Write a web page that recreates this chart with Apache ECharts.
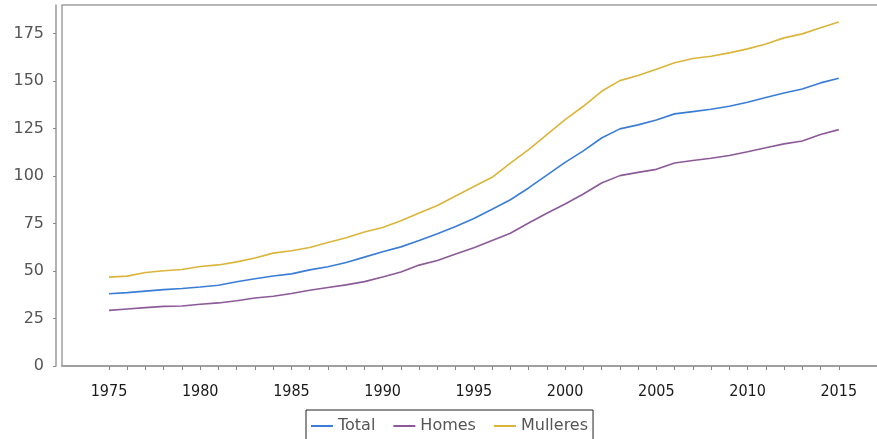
<!DOCTYPE html>
<html>
<head>
<meta charset="utf-8">
<script src="https://cdn.jsdelivr.net/npm/echarts@6/dist/echarts.min.js"></script>
<style>
html,body{margin:0;padding:0;background:#fff;}
#chart{width:877px;height:439px;}
</style>
</head>
<body>
<div id="chart"></div>
<script>
var years = [];
for (var y = 1975; y <= 2015; y++) years.push(y);

var total = [38.0, 38.6, 39.4, 40.2, 40.8, 41.6, 42.5, 44.3, 45.9, 47.4,
  48.5, 50.6, 52.2, 54.5, 57.3, 60.1, 62.7, 66.0, 69.6, 73.4,
  77.6, 82.5, 87.5, 93.7, 100.5, 107.2, 113.2, 120.0, 124.8, 126.9,
  129.5, 132.7, 133.9, 135.1, 136.7, 138.8, 141.3, 143.7, 145.8, 149.0, 151.4];

var homes = [29.3, 30.0, 30.7, 31.4, 31.6, 32.5, 33.2, 34.3, 35.8, 36.7,
  38.2, 39.9, 41.3, 42.7, 44.4, 46.8, 49.5, 53.1, 55.5, 58.9,
  62.2, 66.1, 69.9, 75.3, 80.4, 85.3, 90.5, 96.3, 100.2, 101.9,
  103.5, 106.8, 108.2, 109.3, 110.8, 112.8, 114.9, 116.9, 118.4, 121.8, 124.4];

var mulleres = [46.8, 47.3, 49.2, 50.1, 50.8, 52.4, 53.2, 54.8, 56.8, 59.4,
  60.7, 62.4, 65.0, 67.5, 70.5, 72.9, 76.4, 80.5, 84.5, 89.5,
  94.5, 99.3, 106.8, 113.9, 121.8, 129.7, 136.7, 144.6, 150.2, 152.9,
  156.2, 159.6, 161.8, 163.0, 164.8, 166.9, 169.5, 172.7, 174.8, 178.0, 181.0];

var seriesNames = ['Total', 'Homes', 'Mulleres'];
var xTickValues = years.slice();
var xLabelValues = [1975, 1980, 1985, 1990, 1995, 2000, 2005, 2010, 2015];
var yTickValues = [0, 25, 50, 75, 100, 125, 150, 175];

function pairs(vals) {
  return years.map(function (yr, i) { return [yr, vals[i]]; });
}

var colors = ['#3a7dd6', '#8c5a98', '#dbb53a'];

var chart = echarts.init(document.getElementById('chart'), null, {renderer: 'canvas'});
chart.setOption({
  backgroundColor: '#ffffff',
  animation: false,
  textStyle: {fontFamily: 'DejaVu Sans'},
  grid: {
    left: 62, top: 5, right: -3, bottom: 73,
    outerBoundsMode: 'none',
    containLabel: false,
    show: true, borderColor: '#a0a0a0', borderWidth: 1.5, backgroundColor: '#ffffff'
  },
  legend: {
    data: seriesNames,
    left: 306, top: 410,
    orient: 'horizontal',
    icon: 'rect',
    itemWidth: 22, itemHeight: 2,
    itemGap: 18,
    padding: [8, 5, 8, 5],
    borderColor: '#222', borderWidth: 1,
    backgroundColor: '#ffffff',
    textStyle: {fontFamily: 'DejaVu Sans', fontSize: 16, color: '#555'}
  },
  xAxis: {
    type: 'value',
    min: 1972.424, max: 2017.26,
    offset: 7,
    splitLine: {show: false},
    axisLine: {show: true, lineStyle: {color: '#999', width: 1.5}},
    axisTick: {show: true, length: 4, lineStyle: {color: '#888'}, customValues: xTickValues},
    axisLabel: {
      customValues: xLabelValues,
      margin: 11,
      fontFamily: 'DejaVu Sans Condensed',
      fontSize: 16,
      color: '#1a1a1a',
      formatter: function (v) { return String(v); }
    }
  },
  yAxis: {
    type: 'value',
    min: 0, max: 190,
    offset: 6,
    splitLine: {show: false},
    axisLine: {show: true, lineStyle: {color: '#999', width: 1.5}},
    axisTick: {show: true, length: 3, lineStyle: {color: '#888'}, customValues: yTickValues},
    axisLabel: {
      customValues: yTickValues,
      margin: 12,
      fontFamily: 'DejaVu Sans',
      fontSize: 16,
      color: '#555'
    }
  },
  series: [
    {name: seriesNames[0], type: 'line', data: pairs(total), showSymbol: false, symbol: 'none',
     lineStyle: {color: colors[0], width: 1.6}, itemStyle: {color: colors[0]}},
    {name: seriesNames[1], type: 'line', data: pairs(homes), showSymbol: false, symbol: 'none',
     lineStyle: {color: colors[1], width: 1.6}, itemStyle: {color: colors[1]}},
    {name: seriesNames[2], type: 'line', data: pairs(mulleres), showSymbol: false, symbol: 'none',
     lineStyle: {color: colors[2], width: 1.6}, itemStyle: {color: colors[2]}}
  ]
});
</script>
</body>
</html>
